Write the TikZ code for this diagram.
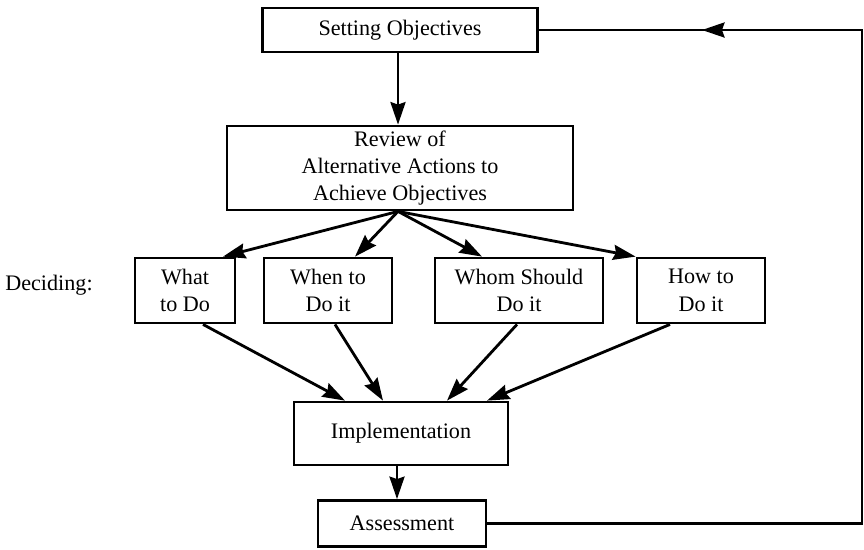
\documentclass[tikz,border=0pt]{standalone}
\usepackage{fontspec}
\setmainfont{Liberation Serif}
\usepackage{tikz}
\usetikzlibrary{calc,arrows.meta}

\begin{document}
\begin{tikzpicture}[x=0.02cm,y=-0.02cm,
                box/.style={draw, line width=1.6pt, inner sep=0pt, align=center,
                        font=\fontsize{12.6}{15.6}\selectfont},
                flow/.style={line width=1.6pt, -{Stealth[length=0.45cm,width=0.3cm,inset=0.05cm]}}]
                \useasboundingbox (0,0) rectangle (864,549);
                \node[box, minimum width=5.5cm, minimum height=0.88cm] (set) at (400,30) {Setting Objectives};
                \node[box, minimum width=6.92cm, minimum height=1.68cm] (review) at (400,168)
                        {Review of\\Alternative Actions to\\Achieve Objectives};
                \draw[flow] (set.south -| 398,0) -- (review.north -| 398,0);
                \node[font=\fontsize{12.6}{15.6}\selectfont] (dec) at (49,285) {Deciding:};
                \node[box, minimum width=2cm, minimum height=1.3cm] (what) at (185,290.5) {What\\to Do};
                \node[box, minimum width=2.56cm, minimum height=1.3cm] (when) at (328,290.5) {When to\\Do it};
                \node[box, minimum width=3.36cm, minimum height=1.3cm] (whom) at (519,290.5) {Whom Should\\Do it};
                \node[box, minimum width=2.56cm, minimum height=1.3cm] (how) at (701,290.5) {How to\\Do it};
                \coordinate (fork) at ($(review.south)+(-2,0)$);
                \draw[flow] (fork) -- ($(what.north)+(38,0)$);
                \draw[flow] (fork) -- ($(when.north)+(27,0)$);
                \draw[flow] (fork) -- ($(whom.north)+(-37,0)$);
                \draw[flow] (fork) -- (how.north west);
                \node[box, minimum width=4.28cm, minimum height=1.26cm] (impl) at (401,433.5) {Implementation};
                \draw[flow] ($(what.south)+(18,0)$) -- ($(impl.north)+(-56,0)$);
                \draw[flow] ($(when.south)+(7,0)$) -- ($(impl.north)+(-18,0)$);
                \draw[flow] ($(whom.south)+(-2,0)$) -- ($(impl.north)+(46,0)$);
                \draw[flow] ($(how.south)+(-31,0)$) -- ($(impl.north)+(86,0)$);
                \node[box, minimum width=3.36cm, minimum height=0.92cm] (assess) at (402,523.5) {Assessment};
                \draw[flow] (impl.south -| 397,0) -- (assess.north -| 397,0);
                \coordinate (turn) at (862,30);
                \coordinate (tip) at (702,30);
                \draw[line width=1.6pt] (assess.east) -| (turn) -- (set.east);
                \draw[flow] (turn) -- (tip);
                \end{tikzpicture}
\end{document}
